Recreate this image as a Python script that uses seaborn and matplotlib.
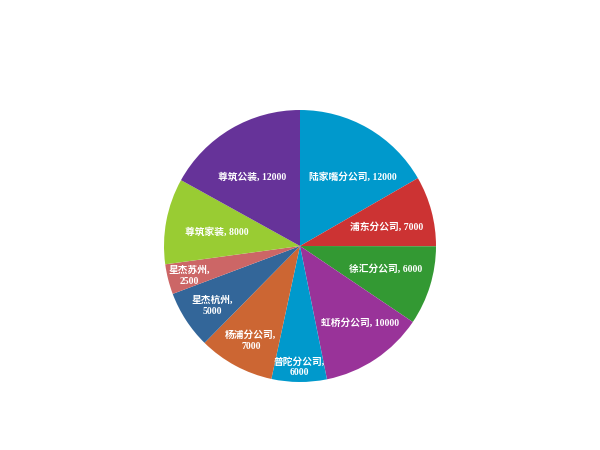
import numpy as np
import matplotlib
matplotlib.use("Agg")
import matplotlib.pyplot as plt
import seaborn as sns

names = ["陆家嘴分公司", "浦东分公司", "徐汇分公司", "虹桥分公司", "普陀分公司",
         "杨浦分公司", "星杰杭州", "星杰苏州", "尊筑家装", "尊筑公装"]
# numbers printed in the labels
values = [12000, 7000, 6000, 10000, 6000, 7000, 5000, 2500, 8000, 12000]
# wedge sizes as drawn in the picture (they don't quite follow the labels)
slice_sizes = [12600, 6300, 7100, 9350, 4950, 6800, 5200, 2700, 7700, 12800]
wrapped = [False, False, False, False, True, True, True, True, False, False]
colors = ["#0099cc", "#cc3333", "#339933", "#993399", "#0099cc",
          "#cc6633", "#336699", "#cc6666", "#99cc33", "#663399"]

sns.set_theme(style="white")
plt.rcParams["font.family"] = ["Liberation Serif", "Noto Sans CJK SC", "DejaVu Sans"]

labels = [f"{n},\n{v}" if w else f"{n}, {v}" for n, v, w in zip(names, values, wrapped)]
# label placement: distance from centre (fraction of radius) and clockwise shift in degrees
label_r = [0.64, 0.655, 0.655, 0.72, 0.89, 0.785, 0.78, 0.84, 0.62, 0.62]
label_shift = [7.5, 2.6, -2, -4, 0, -1, -1.5, -0.8, -1, -4.3]

fig = plt.figure(figsize=(6, 4.5), dpi=100)
r_px = 136
ax = fig.add_axes([(300 - r_px) / 600, (450 - 246 - r_px) / 450, 2 * r_px / 600, 2 * r_px / 450])

wedges, texts = ax.pie(slice_sizes, colors=sns.color_palette(colors), labels=labels,
                       startangle=90, counterclock=False, labeldistance=0.7,
                       wedgeprops=dict(linewidth=0),
                       textprops=dict(color="white", fontsize=7, fontweight="bold",
                                      ha="center", va="center", linespacing=1.3))

for w, t, d, s in zip(wedges, texts, label_r, label_shift):
    ang = np.deg2rad((w.theta1 + w.theta2) / 2 - s)
    t.set_position((d * np.cos(ang), d * np.sin(ang)))

ax.set_xlim(-1, 1)
ax.set_ylim(-1, 1)
ax.set_aspect("equal")

fig.savefig("out.png", dpi=100, facecolor="white")
